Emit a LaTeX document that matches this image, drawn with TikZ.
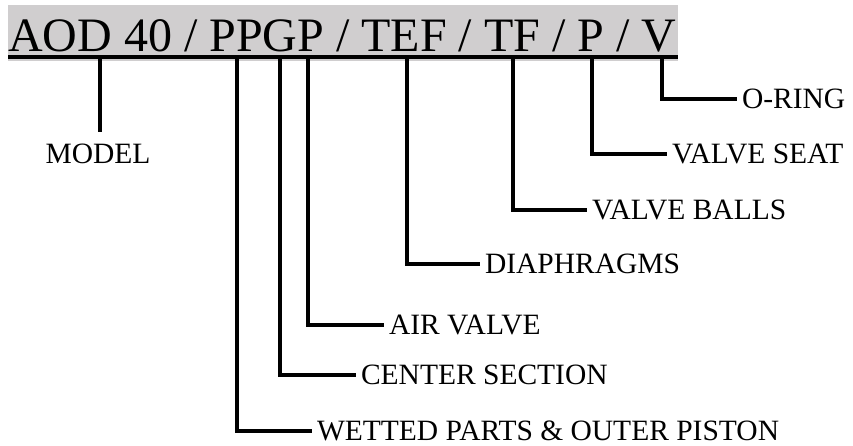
\documentclass[tikz,border=0pt]{standalone}
\usepackage{fontspec}
\setmainfont{Liberation Serif}
\usetikzlibrary{positioning}
\definecolor{barGray}{RGB}{208,206,207}

\begin{document}
\begin{tikzpicture}[x=1pt, y=-1pt,
    tap/.style={line width=3.2pt},
    part/.style={anchor=west, inner sep=0pt, outer xsep=5pt, font=\fontsize{29.5}{31}\selectfont}]

        %\draw[help lines] (0, 0) grid (853, 446);
        \useasboundingbox (0, 0) rectangle (853, 446);

        \fill[barGray] (8, 5) rectangle (678, 61);
        \node[anchor=base west, inner sep=0pt, font=\fontsize{48}{50}\selectfont] (code) at (8, 52) {AOD 40 / PPGP / TEF / TF / P / V};
        \draw[line width=3.2pt] (8, 57) -- (678, 57);

        \coordinate (tModel) at (100, 57);
        \coordinate (tWet) at (237, 57);
        \coordinate (tCenter) at (280, 57);
        \coordinate (tAir) at (308, 57);
        \coordinate (tDia) at (407, 57);
        \coordinate (tBalls) at (513, 57);
        \coordinate (tSeat) at (592, 57);
        \coordinate (tRing) at (662, 57);

        \node[inner sep=0pt, font=\fontsize{29.5}{31}\selectfont] (model) at (98, 154) {MODEL};
        \node[part] (oring) at (737, 99) {O-RING};
        \node[part] (seat) at (667, 154) {VALVE SEAT};
        \node[part] (balls) at (587, 210) {VALVE BALLS};
        \node[part] (dia) at (480, 264) {DIAPHRAGMS};
        \node[part] (air) at (384, 325) {AIR VALVE};
        \node[part] (center) at (356, 375) {CENTER SECTION};
        \node[part] (wet) at (312, 431) {WETTED PARTS \& OUTER PISTON};

        \draw[tap, shorten >=12pt] (tModel) -- (tModel |- model.north);
        \draw[tap] (tRing) |- (oring.west);
        \draw[tap] (tSeat) |- (seat.west);
        \draw[tap] (tBalls) |- (balls.west);
        \draw[tap] (tDia) |- (dia.west);
        \draw[tap] (tAir) |- (air.west);
        \draw[tap] (tCenter) |- (center.west);
        \draw[tap] (tWet) |- (wet.west);
      \end{tikzpicture}
\end{document}
